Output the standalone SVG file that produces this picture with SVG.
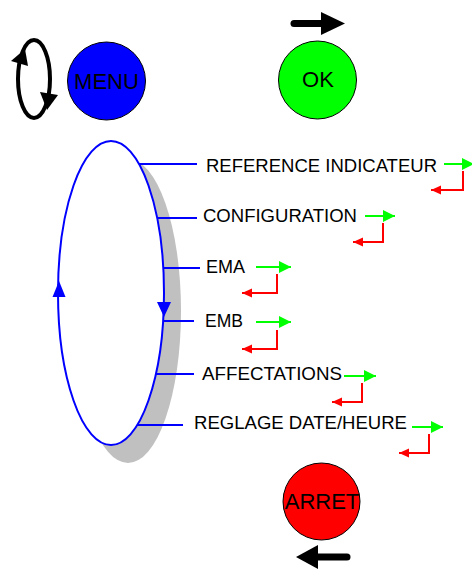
<svg xmlns="http://www.w3.org/2000/svg" width="472" height="570" viewBox="0 0 472 570">
<style>
.lbl{font-family:"Liberation Sans",Arial,sans-serif;font-size:18px;fill:#000}
.btn{font-family:"Liberation Sans",Arial,sans-serif;font-size:22px;fill:#000;text-anchor:middle}
.blue{stroke:#0000ff;stroke-width:2;fill:none}
.g{stroke:#00ff00;stroke-width:2;fill:none}
.r{stroke:#ff0000;stroke-width:2;fill:none}
</style>
<defs>
<marker id="ag" markerUnits="userSpaceOnUse" markerWidth="12" markerHeight="12" viewBox="0 0 10 10" refX="10" refY="5" orient="auto">
<path d="M0,0 L10,5 L0,10 Z" fill="#00ff00"/>
</marker>
<marker id="ar" markerUnits="userSpaceOnUse" markerWidth="11" markerHeight="10" viewBox="0 0 10 10" refX="10" refY="5" orient="auto">
<path d="M0,0.5 L10,5 L0,9.5 Z" fill="#ff0000"/>
</marker>
</defs>
<rect width="472" height="570" fill="#fff"/>

<g id="rotate-icon">
<ellipse cx="34" cy="79" rx="16" ry="39" fill="none" stroke="#000" stroke-width="4"/>
<polygon points="25,49 11,61 28,66" fill="#000"/>
<polygon points="40,92 58,95 47,110" fill="#000"/>
</g>

<g id="menu">
<circle cx="106.5" cy="81" r="39" fill="#0000ff" stroke="#000" stroke-width="1"/>
<text class="btn" x="106.5" y="89">MENU</text>
</g>

<g id="ok">
<line x1="294" y1="23.5" x2="323" y2="23.5" stroke="#000" stroke-width="7" stroke-linecap="round"/>
<polygon points="321,12 345,23.5 321,35" fill="#000"/>
<circle cx="317.5" cy="80" r="39" fill="#00ff00" stroke="#000" stroke-width="1"/>
<text class="btn" x="318" y="87">OK</text>
</g>

<g id="arret">
<circle cx="321.5" cy="501.5" r="38.5" fill="#ff0000" stroke="#000" stroke-width="1"/>
<text class="btn" x="322" y="509">ARRET</text>
<line x1="316" y1="557" x2="347" y2="557" stroke="#000" stroke-width="7" stroke-linecap="round"/>
<polygon points="318,545 296,557 318,569" fill="#000"/>
</g>

<g id="cycle">
<ellipse cx="128" cy="311" rx="53" ry="152" fill="#c0c0c0"/>
<ellipse cx="111" cy="293" rx="53" ry="152" fill="#fff" stroke="#0000ff" stroke-width="2"/>
<polygon points="59,281 52.5,297 65.5,297" fill="#0000ff"/>
<polygon points="157,302 171,302 164,317" fill="#0000ff"/>
</g>

<g id="connectors">
<line class="blue" x1="139" y1="164" x2="197" y2="164"/>
<line class="blue" x1="157" y1="218" x2="197" y2="218"/>
<line class="blue" x1="163" y1="268" x2="200" y2="268"/>
<line class="blue" x1="163" y1="321" x2="194" y2="321"/>
<line class="blue" x1="156" y1="374" x2="194" y2="374"/>
<line class="blue" x1="137" y1="425" x2="183" y2="425"/>
</g>

<g id="item-reference">
<text class="lbl" x="206" y="172" textLength="231" lengthAdjust="spacingAndGlyphs">REFERENCE INDICATEUR</text>
<line class="g" x1="444" y1="164" x2="474" y2="164" marker-end="url(#ag)"/>
<polyline class="r" points="463,171 463,190 431,190" marker-end="url(#ar)"/>
</g>
<g id="item-configuration">
<text class="lbl" x="203" y="222" textLength="154" lengthAdjust="spacingAndGlyphs">CONFIGURATION</text>
<line class="g" x1="365" y1="216" x2="395" y2="216" marker-end="url(#ag)"/>
<polyline class="r" points="383,223 383,242 353,242" marker-end="url(#ar)"/>
</g>
<g id="item-ema">
<text class="lbl" x="206" y="273" textLength="39" lengthAdjust="spacingAndGlyphs">EMA</text>
<line class="g" x1="256" y1="267" x2="291" y2="267" marker-end="url(#ag)"/>
<polyline class="r" points="277,274 277,293 242,293" marker-end="url(#ar)"/>
</g>
<g id="item-emb">
<text class="lbl" x="205" y="327" textLength="38" lengthAdjust="spacingAndGlyphs">EMB</text>
<line class="g" x1="256" y1="322" x2="291" y2="322" marker-end="url(#ag)"/>
<polyline class="r" points="277,330 277,349 242,349" marker-end="url(#ar)"/>
</g>
<g id="item-affectations">
<text class="lbl" x="202" y="380" textLength="140" lengthAdjust="spacingAndGlyphs">AFFECTATIONS</text>
<line class="g" x1="344" y1="376" x2="376" y2="376" marker-end="url(#ag)"/>
<polyline class="r" points="362,383 362,402 332,402" marker-end="url(#ar)"/>
</g>
<g id="item-reglage">
<text class="lbl" x="194" y="429" textLength="213" lengthAdjust="spacingAndGlyphs">REGLAGE DATE/HEURE</text>
<line class="g" x1="412" y1="427" x2="443" y2="427" marker-end="url(#ag)"/>
<polyline class="r" points="429,434 429,453 399,453" marker-end="url(#ar)"/>
</g>
</svg>
